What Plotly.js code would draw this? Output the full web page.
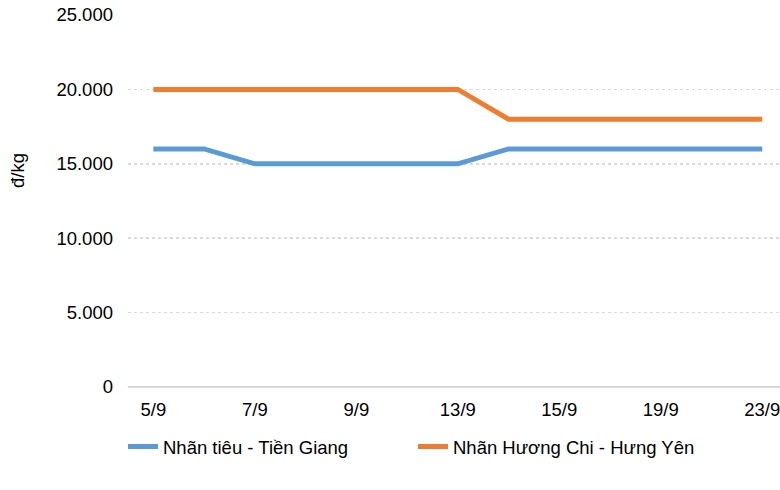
<!DOCTYPE html>
<html>
<head>
<meta charset="utf-8">
<script src="https://cdn.plot.ly/plotly-3.0.1.min.js"></script>
<style>html,body{margin:0;padding:0;background:#fff;}#chart{width:780px;height:490px;}</style>
</head>
<body>
<div id="chart"></div>
<script>
// Dates (categories); only every other one is labelled on the axis
const dates = ["5/9","6/9","7/9","8/9","9/9","12/9","13/9","14/9","15/9","16/9","19/9","21/9","23/9"];
const tienGiang = [16000,16000,15000,15000,15000,15000,15000,16000,16000,16000,16000,16000,16000];
const hungYen   = [20000,20000,20000,20000,20000,20000,20000,18000,18000,18000,18000,18000,18000];
const seriesNames = ["Nhãn tiêu - Tiền Giang", "Nhãn Hương Chi - Hưng Yên"];
const yTicks = [0,5000,10000,15000,20000,25000];
const shownLabels = dates.filter((d,i)=>i%2===0);

const font = {family:"Liberation Sans, Arial, sans-serif", size:18.5, color:"#000"};

const traces = [
  {x:dates, y:tienGiang, name:seriesNames[0], type:"scatter", mode:"lines",
   line:{color:"#5B9BD5", width:5}},
  {x:dates, y:hungYen, name:seriesNames[1], type:"scatter", mode:"lines",
   line:{color:"#ED7D31", width:5}}
];

const layout = {
  width:780, height:490,
  margin:{l:128, r:0, t:15, b:103},
  paper_bgcolor:"#fff", plot_bgcolor:"#fff",
  font:font,
  separators:",.",
  showlegend:true,
  legend:{orientation:"h", xref:"container", yref:"container", x:123/780, y:1-428/490,
          xanchor:"left", yanchor:"top", font:font, entrywidth:245, entrywidthmode:"pixels"},
  xaxis:{type:"category", range:[-0.5,12.35], tickmode:"array", tickvals:shownLabels, ticktext:shownLabels,
         showgrid:false, zeroline:false, showline:false, ticks:"", ticklabelstandoff:9, tickfont:font, fixedrange:true},
  yaxis:{range:[0,25000], tickvals:yTicks, tickformat:",d", showgrid:true, gridcolor:"#d9d9d9", griddash:"dot", gridwidth:1.5,
         zeroline:true, zerolinecolor:"#d9d9d9", zerolinewidth:2, showline:false, ticks:"", ticklabelstandoff:14, tickfont:font, fixedrange:true},
  annotations:[{text:"đ/kg", xref:"paper", yref:"paper", x:-(128-18)/652, y:(387-171)/372, xanchor:"center", yanchor:"middle",
                textangle:-90, showarrow:false, font:font}]
};

Plotly.newPlot("chart", traces, layout, {displayModeBar:false, staticPlot:true});
</script>
</body>
</html>
